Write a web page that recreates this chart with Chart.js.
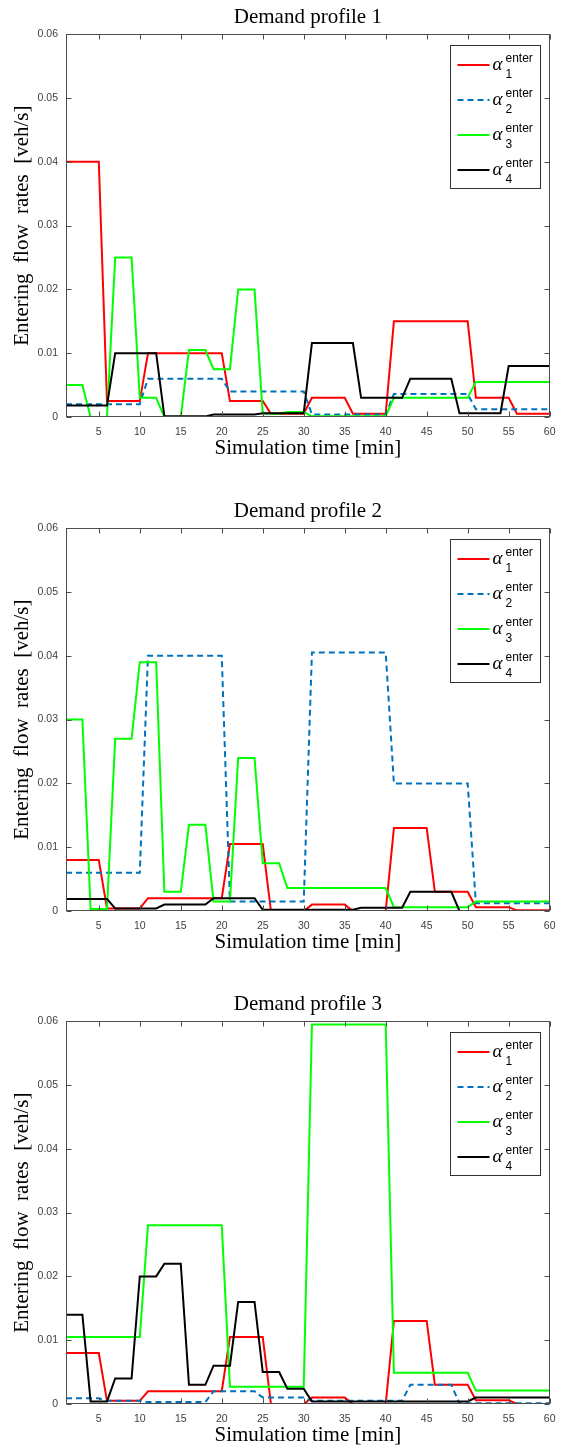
<!DOCTYPE html>
<html>
<head>
<meta charset="utf-8">
<script src="https://cdn.jsdelivr.net/npm/chart.js@4.4.1/dist/chart.umd.min.js"></script>
<style>
body { margin: 0; background: #fff; }
#wrap { position: relative; width: 564px; height: 1450px; }
#wrap canvas { position: absolute; left: 0; }
</style>
</head>
<body>
<div id="wrap">
<canvas id="profile1" width="564" height="470" style="top:0px"></canvas>
<canvas id="profile2" width="564" height="470" style="top:494px"></canvas>
<canvas id="profile3" width="564" height="470" style="top:987px"></canvas>
</div>
<script>
// simulation minutes
const minutes = [1,2,3,4,5,6,7,8,9,10,11,12,13,14,15,16,17,18,19,20,
  21,22,23,24,25,26,27,28,29,30,31,32,33,34,35,36,37,38,39,40,
  41,42,43,44,45,46,47,48,49,50,51,52,53,54,55,56,57,58,59,60];

const xTicks = [5,10,15,20,25,30,35,40,45,50,55,60];
const yTicks = [0,0.01,0.02,0.03,0.04,0.05,0.06];

// Demand profile 1
const red1 = [0.04,0.04,0.04,0.04,0.04,0.0025,0.0025,0.0025,0.0025,0.0025,
  0.01,0.01,0.01,0.01,0.01,0.01,0.01,0.01,0.01,0.01,
  0.0025,0.0025,0.0025,0.0025,0.0025,0.0005,0.0005,0.0005,0.0005,0.0005,
  0.003,0.003,0.003,0.003,0.003,0.0005,0.0005,0.0005,0.0005,0.0005,
  0.015,0.015,0.015,0.015,0.015,0.015,0.015,0.015,0.015,0.015,
  0.003,0.003,0.003,0.003,0.003,0.0005,0.0005,0.0005,0.0005,0.0005];
const blue1 = [0.002,0.002,0.002,0.002,0.002,0.002,0.002,0.002,0.002,0.002,
  0.006,0.006,0.006,0.006,0.006,0.006,0.006,0.006,0.006,0.006,
  0.004,0.004,0.004,0.004,0.004,0.004,0.004,0.004,0.004,0.004,
  0.0004,0.0004,0.0004,0.0004,0.0004,0.0004,0.0004,0.0004,0.0004,0.0004,
  0.0036,0.0036,0.0036,0.0036,0.0036,0.0036,0.0036,0.0036,0.0036,0.0036,
  0.0012,0.0012,0.0012,0.0012,0.0012,0.0012,0.0012,0.0012,0.0012,0.0012];
const green1 = [0.005,0.005,0.005,0,0,0,0.025,0.025,0.025,0.003,
  0.003,0.003,0,0,0,0.0105,0.0105,0.0105,0.0075,0.0075,
  0.0075,0.02,0.02,0.02,0.0005,0.0005,0.0005,0.0008,0.0008,0.0008,
  0.0001,0.0001,0.0001,0.0001,0.0001,0.0001,0.0001,0.0001,0.0001,0.0001,
  0.003,0.003,0.003,0.003,0.003,0.003,0.003,0.003,0.003,0.003,
  0.0055,0.0055,0.0055,0.0055,0.0055,0.0055,0.0055,0.0055,0.0055,0.0055];
const black1 = [0.0018,0.0018,0.0018,0.0018,0.0018,0.0018,0.01,0.01,0.01,0.01,
  0.01,0.01,0.0001,0.0001,0.0001,0.0001,0.0001,0.0001,0.0004,0.0004,
  0.0004,0.0004,0.0004,0.0004,0.0006,0.0006,0.0006,0.0006,0.0006,0.0006,
  0.0116,0.0116,0.0116,0.0116,0.0116,0.0116,0.003,0.003,0.003,0.003,
  0.003,0.003,0.006,0.006,0.006,0.006,0.006,0.006,0.0006,0.0006,
  0.0006,0.0006,0.0006,0.0006,0.008,0.008,0.008,0.008,0.008,0.008];

// Demand profile 2
const red2 = [0.008,0.008,0.008,0.008,0.008,0.0004,0.0004,0.0004,0.0004,0.0004,
  0.002,0.002,0.002,0.002,0.002,0.002,0.002,0.002,0.002,0.002,
  0.0105,0.0105,0.0105,0.0105,0.0105,0,0,0,0,0,
  0.001,0.001,0.001,0.001,0.001,0,0,0,0,0,
  0.013,0.013,0.013,0.013,0.013,0.003,0.003,0.003,0.003,0.003,
  0.0006,0.0006,0.0006,0.0006,0.0006,0.0001,0.0001,0.0001,0.0001,0.0001];
const blue2 = [0.006,0.006,0.006,0.006,0.006,0.006,0.006,0.006,0.006,0.006,
  0.04,0.04,0.04,0.04,0.04,0.04,0.04,0.04,0.04,0.04,
  0.0015,0.0015,0.0015,0.0015,0.0015,0.0015,0.0015,0.0015,0.0015,0.0015,
  0.0405,0.0405,0.0405,0.0405,0.0405,0.0405,0.0405,0.0405,0.0405,0.0405,
  0.02,0.02,0.02,0.02,0.02,0.02,0.02,0.02,0.02,0.02,
  0.0012,0.0012,0.0012,0.0012,0.0012,0.0012,0.0012,0.0012,0.0012,0.0012];
const green2 = [0.03,0.03,0.03,0.0003,0.0003,0.0003,0.027,0.027,0.027,0.039,
  0.039,0.039,0.003,0.003,0.003,0.0135,0.0135,0.0135,0.0015,0.0015,
  0.0015,0.024,0.024,0.024,0.0075,0.0075,0.0075,0.0036,0.0036,0.0036,
  0.0036,0.0036,0.0036,0.0036,0.0036,0.0036,0.0036,0.0036,0.0036,0.0036,
  0.0006,0.0006,0.0006,0.0006,0.0006,0.0006,0.0006,0.0006,0.0006,0.0006,
  0.0015,0.0015,0.0015,0.0015,0.0015,0.0015,0.0015,0.0015,0.0015,0.0015];
const black2 = [0.0019,0.0019,0.0019,0.0019,0.0019,0.0019,0.0004,0.0004,0.0004,0.0004,
  0.0004,0.0004,0.001,0.001,0.001,0.001,0.001,0.001,0.002,0.002,
  0.002,0.002,0.002,0.002,0.0002,0.0002,0.0002,0.0002,0.0002,0.0002,
  0.0002,0.0002,0.0002,0.0002,0.0002,0.0002,0.0005,0.0005,0.0005,0.0005,
  0.0005,0.0005,0.003,0.003,0.003,0.003,0.003,0.003,0,0,
  0,0,0,0,0,0,0,0,0,0];

// Demand profile 3
const red3 = [0.008,0.008,0.008,0.008,0.008,0.0005,0.0005,0.0005,0.0005,0.0005,
  0.002,0.002,0.002,0.002,0.002,0.002,0.002,0.002,0.002,0.002,
  0.0105,0.0105,0.0105,0.0105,0.0105,0,0,0,0,0,
  0.001,0.001,0.001,0.001,0.001,0,0,0,0,0,
  0.013,0.013,0.013,0.013,0.013,0.003,0.003,0.003,0.003,0.003,
  0.0006,0.0006,0.0006,0.0006,0.0006,0,0,0,0,0];
const blue3 = [0.0009,0.0009,0.0009,0.0009,0.0009,0.0005,0.0005,0.0005,0.0005,0.0005,
  0.0003,0.0003,0.0003,0.0003,0.0003,0.0003,0.0003,0.0003,0.002,0.002,
  0.002,0.002,0.002,0.002,0.001,0.001,0.001,0.001,0.001,0.001,
  0.0005,0.0005,0.0005,0.0005,0.0005,0.0005,0.0005,0.0005,0.0005,0.0005,
  0.0005,0.0005,0.003,0.003,0.003,0.003,0.003,0.003,0.0001,0.0001,
  0.0001,0.0001,0.0001,0.0001,0.0001,0.0001,0.0001,0.0001,0.0001,0.0001];
const green3 = [0.0105,0.0105,0.0105,0.0105,0.0105,0.0105,0.0105,0.0105,0.0105,0.0105,
  0.028,0.028,0.028,0.028,0.028,0.028,0.028,0.028,0.028,0.028,
  0.0027,0.0027,0.0027,0.0027,0.0027,0.0027,0.0027,0.0027,0.0027,0.0027,
  0.0595,0.0595,0.0595,0.0595,0.0595,0.0595,0.0595,0.0595,0.0595,0.0595,
  0.0049,0.0049,0.0049,0.0049,0.0049,0.0049,0.0049,0.0049,0.0049,0.0049,
  0.0021,0.0021,0.0021,0.0021,0.0021,0.0021,0.0021,0.0021,0.0021,0.0021];
const black3 = [0.014,0.014,0.014,0.0004,0.0004,0.0004,0.004,0.004,0.004,0.02,
  0.02,0.02,0.022,0.022,0.022,0.003,0.003,0.003,0.006,0.006,
  0.006,0.016,0.016,0.016,0.005,0.005,0.005,0.0024,0.0024,0.0024,
  0.0004,0.0004,0.0004,0.0004,0.0004,0.0004,0.0004,0.0004,0.0004,0.0004,
  0.0004,0.0004,0.0004,0.0004,0.0004,0.0004,0.0004,0.0004,0.0004,0.0004,
  0.001,0.001,0.001,0.001,0.001,0.001,0.001,0.001,0.001,0.001];

const legendSup = 'enter';
const legendSub = ['1','2','3','4'];

const colors = ['#ff0000', '#0072bd', '#00ff00', '#000000'];
const serif = '"Liberation Serif", "Times New Roman", serif';
const sans = '"Liberation Sans", Arial, sans-serif';

// matlab style box with inward ticks on all four sides
const boxPlugin = {
    id: 'box',
    afterDatasetsDraw(chart) {
        const {ctx, chartArea: a, scales: {x, y}} = chart;
        const L = Math.round(a.left) + 0.5, R = Math.round(a.right) - 0.5;
        const T = Math.round(a.top) + 0.5, B = Math.round(a.bottom) - 0.5;
        ctx.save();
        ctx.strokeStyle = '#4d4d4d';
        ctx.lineWidth = 1;
        ctx.strokeRect(L, T, R - L, B - T);
        ctx.beginPath();
        xTicks.forEach(v => {
            const px = Math.round(x.getPixelForValue(v)) + 0.5;
            ctx.moveTo(px, B); ctx.lineTo(px, B - 5);
            ctx.moveTo(px, T); ctx.lineTo(px, T + 5);
        });
        yTicks.forEach(v => {
            const py = Math.round(y.getPixelForValue(v)) + 0.5;
            ctx.moveTo(L, py); ctx.lineTo(L + 5, py);
            ctx.moveTo(R, py); ctx.lineTo(R - 5, py);
        });
        ctx.stroke();
        ctx.restore();
    }
};

const legendPlugin = {
    id: 'alphaLegend',
    afterDraw(chart) {
        const {ctx, chartArea: a} = chart;
        const w = 90, h = 143;
        const bx = Math.round(a.right - 10 - w) + 0.5;
        const by = Math.round(a.top + 11) + 0.5;
        ctx.save();
        ctx.fillStyle = '#fff';
        ctx.fillRect(bx, by, w, h);
        ctx.strokeStyle = '#333';
        ctx.lineWidth = 1;
        ctx.strokeRect(bx, by, w, h);
        chart.data.datasets.forEach((ds, i) => {
            const ry = by + 19.5 + i * 35;
            ctx.beginPath();
            ctx.strokeStyle = ds.borderColor;
            ctx.lineWidth = ds.borderWidth;
            ctx.setLineDash(ds.borderDash || []);
            ctx.moveTo(bx + 7, ry);
            ctx.lineTo(bx + 39, ry);
            ctx.stroke();
            ctx.setLineDash([]);
            ctx.fillStyle = '#000';
            ctx.textBaseline = 'alphabetic';
            ctx.textAlign = 'left';
            ctx.font = 'italic 19px ' + serif;
            ctx.fillText('α', bx + 42, ry + 5);
            ctx.font = '12px ' + sans;
            ctx.fillText(legendSup, bx + 55, ry - 3);
            ctx.font = '12px ' + sans;
            ctx.fillText(legendSub[i], bx + 55, ry + 13);
        });
        ctx.restore();
    }
};

function profileChart(id, title, series) {
    const datasets = series.map((values, i) => ({
        label: 'alpha_' + legendSub[i],
        data: values,
        borderColor: colors[i],
        borderWidth: 2,
        borderDash: i === 1 ? [6, 4] : [],
        pointRadius: 0,
        tension: 0,
        fill: false,
        order: 4 - i
    }));
    const config = {
        type: 'line',
        data: { labels: minutes, datasets: datasets },
        options: {
            responsive: false,
            animation: false,
            layout: { padding: { left: 0, right: 14, top: 0, bottom: 0 } },
            plugins: {
                legend: { display: false },
                tooltip: { enabled: false },
                title: {
                    display: true,
                    text: title,
                    fullSize: false,
                    color: '#000',
                    font: { family: serif, size: 21, weight: 'normal' },
                    padding: { top: 5, bottom: 4 }
                }
            },
            scales: {
                x: {
                    type: 'linear',
                    min: 1,
                    max: 60,
                    afterBuildTicks: s => { s.ticks = xTicks.map(v => ({ value: v })); },
                    afterFit: s => { s.height = 53; },
                    grid: { display: false, drawTicks: false },
                    border: { display: false },
                    ticks: {
                        autoSkip: false,
                        maxRotation: 0,
                        padding: 8.5,
                        color: '#404040',
                        font: { family: sans, size: 10.5 }
                    },
                    title: {
                        display: true,
                        text: 'Simulation time [min]',
                        color: '#000',
                        font: { family: serif, size: 21 },
                        padding: { top: 0, bottom: 9 }
                    }
                },
                y: {
                    type: 'linear',
                    min: 0,
                    max: 0.06,
                    afterBuildTicks: s => { s.ticks = yTicks.map(v => ({ value: v })); },
                    afterFit: s => { s.width = 66; },
                    grid: { display: false, drawTicks: false },
                    border: { display: false },
                    ticks: {
                        padding: 8,
                        color: '#404040',
                        font: { family: sans, size: 10.5 },
                        callback: v => v === 0 ? '0' : v.toFixed(2)
                    },
                    title: {
                        display: true,
                        text: 'Entering  flow  rates  [veh/s]',
                        color: '#000',
                        font: { family: serif, size: 21 },
                        padding: { top: 10, bottom: 0 }
                    }
                }
            }
        },
        plugins: [boxPlugin, legendPlugin]
    };
    let ctx = document.getElementById(id).getContext('2d');
    new Chart(ctx, config);
}

profileChart('profile1', 'Demand profile 1', [red1, blue1, green1, black1]);
profileChart('profile2', 'Demand profile 2', [red2, blue2, green2, black2]);
profileChart('profile3', 'Demand profile 3', [red3, blue3, green3, black3]);
</script>
</body>
</html>
